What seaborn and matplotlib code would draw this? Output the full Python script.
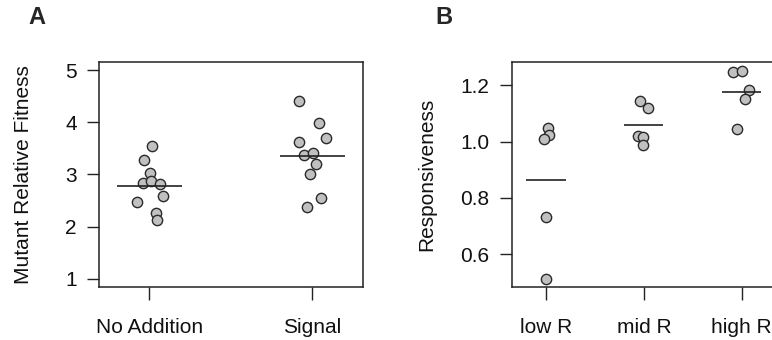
import pandas as pd
import matplotlib
matplotlib.use("Agg")
import matplotlib.pyplot as plt
import seaborn as sns

# panel A: mutant relative fitness, 10 replicates per condition
conditions = ['No Addition', 'Signal']
fitness_no_addition = [3.54, 3.28, 3.02, 2.84, 2.88, 2.82, 2.58, 2.47, 2.26, 2.12]
fitness_signal = [4.42, 3.98, 3.62, 3.70, 3.38, 3.41, 3.20, 3.01, 2.55, 2.37]
# horizontal jitter (category units)
jitter_no_addition = [0.016, -0.031, 0.006, -0.039, 0.012, 0.063, 0.082, -0.078, 0.041, 0.047]
jitter_signal = [-0.080, 0.041, -0.081, 0.082, -0.049, 0.006, 0.023, -0.014, 0.053, -0.034]

# panel B: responsiveness, 5 replicates per group
groups = ['low R', 'mid R', 'high R']
resp_low = [1.050, 1.025, 1.008, 0.731, 0.511]
resp_mid = [1.146, 1.121, 1.019, 1.016, 0.989]
resp_high = [1.249, 1.252, 1.185, 1.152, 1.044]
jitter_low = [0.024, 0.031, -0.020, 0.0, 0.0]
jitter_mid = [-0.041, 0.047, -0.055, -0.010, -0.010]
jitter_high = [-0.092, 0.006, 0.072, 0.031, -0.045]


def make_df(labels, values, jitters):
    rows = []
    for i, (lab, vals, jit) in enumerate(zip(labels, values, jitters)):
        for v, j in zip(vals, jit):
            rows.append({'group': lab, 'value': v, 'x': i + j})
    return pd.DataFrame(rows)


df_a = make_df(conditions, [fitness_no_addition, fitness_signal],
               [jitter_no_addition, jitter_signal])
df_b = make_df(groups, [resp_low, resp_mid, resp_high],
               [jitter_low, jitter_mid, jitter_high])

sns.set_style("ticks")
plt.rcParams['font.family'] = ['Liberation Sans', 'DejaVu Sans']
fs = 15

fig = plt.figure(figsize=(7.72, 3.40), dpi=100)
ax_a = fig.add_axes([0.1282, 0.1559, 0.3420, 0.6618])
ax_b = fig.add_axes([0.6628, 0.1559, 0.3424, 0.6618])


def draw_panel(ax, df, labels, ylabel, xlim, ylim, yticks, ytick_labels):
    sns.scatterplot(data=df, x='x', y='value', ax=ax, s=55, color='#c0c0c0',
                    edgecolor='#2a2a2a', linewidth=1.0, zorder=3, legend=False)
    means = df.groupby('group', sort=False)['value'].mean()
    for i, lab in enumerate(labels):
        ax.hlines(means[lab], i - 0.2, i + 0.2, color='#222222', lw=1.2, zorder=4)
    ax.set_xlim(*xlim)
    ax.set_ylim(*ylim)
    ax.set_xticks(range(len(labels)))
    ax.set_xticklabels(labels)
    ax.set_yticks(yticks)
    ax.set_yticklabels(ytick_labels)
    ax.set_xlabel('')
    ax.set_ylabel(ylabel, fontsize=fs, color='#111111')
    ax.tick_params(axis='both', direction='out', length=9, width=1.0,
                   color='#222222', labelsize=fs, labelcolor='#111111')
    ax.tick_params(axis='x', pad=13)
    ax.tick_params(axis='y', pad=7)
    for sp in ax.spines.values():
        sp.set_visible(True)
        sp.set_linewidth(1.1)
        sp.set_color('#222222')
    ax.grid(False)


draw_panel(ax_a, df_a, conditions, 'Mutant Relative Fitness',
           (-0.31, 1.31), (0.84, 5.16), [1, 2, 3, 4, 5], ['1', '2', '3', '4', '5'])
draw_panel(ax_b, df_b, groups, 'Responsiveness',
           (-0.35, 2.35), (0.483, 1.283), [0.6, 0.8, 1.0, 1.2],
           ['0.6', '0.8', '1.0', '1.2'])

ax_a.yaxis.set_label_coords(-0.25, 0.5)
ax_b.yaxis.set_label_coords(-0.285, 0.5)

fig.text(28 / 772, 1 - 18 / 340, 'A', fontsize=17, fontweight='bold',
         va='center', ha='left')
fig.text(435 / 772, 1 - 18 / 340, 'B', fontsize=17, fontweight='bold',
         va='center', ha='left')

fig.savefig('out.png', dpi=100, facecolor='white')
